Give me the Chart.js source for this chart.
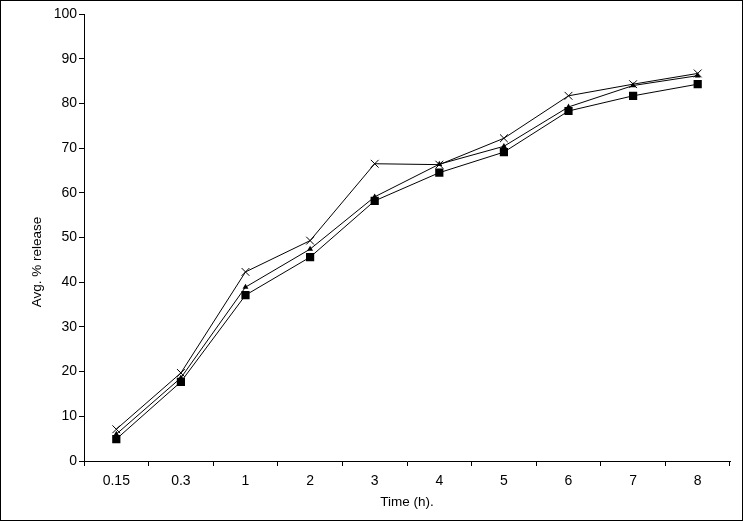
<!DOCTYPE html>
<html>
<head>
<meta charset="utf-8">
<script src="https://cdn.jsdelivr.net/npm/chart.js@4.4.1/dist/chart.umd.min.js"></script>
<style>
  html, body { margin: 0; padding: 0; background: #fff; }
  #wrap { width: 743px; height: 521px; position: relative; }
</style>
</head>
<body>
<div id="wrap"><canvas id="c" width="743" height="521"></canvas></div>
<script>
const categories = ["0.15", "0.3", "1", "2", "3", "4", "5", "6", "7", "8"];
const seriesCross    = [7.1, 19.7, 42.3, 49.3, 66.5, 66.3, 72.2, 81.7, 84.3, 86.7];
const seriesTriangle = [6.0, 18.6, 38.9, 47.4, 59.1, 66.4, 70.4, 79.2, 84.0, 86.2];
const seriesSquare   = [4.9, 17.7, 37.1, 45.6, 58.2, 64.5, 69.1, 78.3, 81.7, 84.3];
const yTicks = [0, 10, 20, 30, 40, 50, 60, 70, 80, 90, 100];
const yTitle = 'Avg. % release';
const xTitle = 'Time (h).';

const FONT = "'Liberation Sans', Arial, sans-serif";

const framePlugin = {
  id: 'frame',
  afterDraw(chart) {
    const ctx = chart.ctx;
    ctx.save();
    ctx.strokeStyle = '#000';
    ctx.lineWidth = 1;
    ctx.strokeRect(0.5, 0.5, chart.width - 1, chart.height - 1);
    // y axis title
    ctx.fillStyle = '#000';
    ctx.font = "13.5px " + FONT;
    ctx.textAlign = 'center';
    ctx.textBaseline = 'middle';
    ctx.translate(37, 262);
    ctx.rotate(-Math.PI / 2);
    ctx.fillText(yTitle, 0, 0);
    ctx.restore();
  }
};

new Chart(document.getElementById('c'), {
  type: 'line',
  data: {
    labels: categories,
    datasets: [
      {
        label: 'A', data: seriesCross, borderColor: '#000', backgroundColor: '#000',
        borderWidth: 1, pointStyle: 'crossRot', pointRadius: 5.5, pointBorderWidth: 1,
        pointBorderColor: '#000', tension: 0
      },
      {
        label: 'B', data: seriesTriangle, borderColor: '#000', backgroundColor: '#000',
        borderWidth: 1, pointStyle: 'triangle', pointRadius: 3.4, pointBorderWidth: 0,
        pointBackgroundColor: '#000', tension: 0
      },
      {
        label: 'C', data: seriesSquare, borderColor: '#000', backgroundColor: '#000',
        borderWidth: 1, pointStyle: 'rect', pointRadius: 5.8, pointBorderWidth: 0,
        pointBackgroundColor: '#000', tension: 0
      }
    ]
  },
  options: {
    responsive: false,
    animation: false,
    devicePixelRatio: 1,
    layout: { padding: { left: 0, right: 13, top: 14, bottom: 0 } },
    plugins: { legend: { display: false }, tooltip: { enabled: false } },
    scales: {
      x: {
        type: 'category',
        offset: true,
        grid: { offset: true, drawOnChartArea: false, drawTicks: true, tickLength: 5, color: '#000', lineWidth: 1 },
        border: { display: true, color: '#000', width: 1 },
        ticks: { color: '#000', font: { family: FONT, size: 14 }, padding: 7, maxRotation: 0, autoSkip: false },
        title: { display: true, text: xTitle, color: '#000', font: { family: FONT, size: 13.5 }, padding: { top: 0, bottom: 11 } },
        afterFit(scale) { scale.height = 60; }
      },
      y: {
        min: 0, max: 100,
        afterBuildTicks(scale) { scale.ticks = yTicks.map(v => ({ value: v })); },
        grid: { drawOnChartArea: false, drawTicks: true, tickLength: 5, color: '#000', lineWidth: 1 },
        border: { display: true, color: '#000', width: 1 },
        ticks: { color: '#000', font: { family: FONT, size: 14 }, padding: 2 },
        title: { display: false },
        afterFit(scale) { scale.width = 84; }
      }
    }
  },
  plugins: [framePlugin]
});
</script>
</body>
</html>
